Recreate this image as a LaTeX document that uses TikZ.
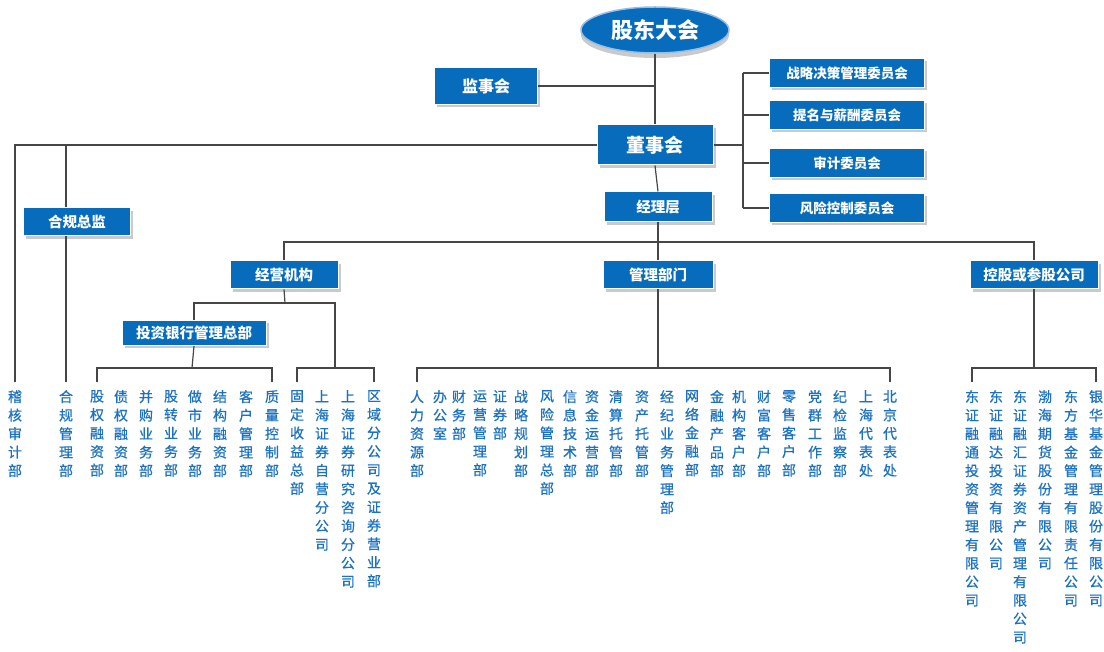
\documentclass[tikz,border=0pt]{standalone}
\usepackage{fontspec}
\setmainfont{Noto Sans CJK SC}
\newfontfamily\vtfont[FakeBold=0.7]{Noto Sans CJK SC}
\usetikzlibrary{shapes.geometric,shadows}
\definecolor{boxblue}{RGB}{8,108,189}
\definecolor{txtblue}{RGB}{28,114,194}
\definecolor{lncol}{RGB}{70,70,70}
\definecolor{rimblue}{RGB}{150,190,230}
\tikzset{
  bx/.style={rectangle, fill=boxblue, draw=white, line width=1pt, text=white,
    font=\bfseries\fontsize{14.5}{16}\selectfont, inner sep=0pt,
    drop shadow={shadow xshift=2.5pt, shadow yshift=-3pt, fill=black!35, opacity=0.6}},
  vt/.style={anchor=north, align=center, inner sep=0pt, text=txtblue,
    font=\vtfont\fontsize{14}{18.5}\selectfont},
  ln/.style={draw=lncol, line width=1.2pt},
}
\begin{document}
\begin{tikzpicture}[x=1pt,y=-1pt]
\useasboundingbox (0,0) rectangle (1104,652);
% top
\node[ellipse, fill=boxblue, draw=rimblue, line width=1.5pt, minimum width=148pt, minimum height=46pt,
  text=white, font=\bfseries\fontsize{22}{24}\selectfont, inner sep=0pt,
  drop shadow={shadow xshift=0pt, shadow yshift=-5pt, fill=black!35, opacity=0.6}] (gm) at (655,30) {股东大会};
\node[bx, minimum width=103pt, minimum height=37pt, font=\bfseries\fontsize{16}{18}\selectfont] (sup) at (486,86) {监事会};
\node[bx, minimum width=116pt, minimum height=40pt, font=\bfseries\fontsize{19}{21}\selectfont] (board) at (655,145) {董事会};
\node[bx, minimum width=108pt, minimum height=30pt] (mgr) at (658,207) {经理层};
\node[bx, minimum width=155pt, minimum height=29pt, font=\bfseries\fontsize{13.5}{15}\selectfont] (c1) at (847,73) {战略决策管理委员会};
\node[bx, minimum width=155pt, minimum height=29pt, font=\bfseries\fontsize{13.5}{15}\selectfont] (c2) at (847,115) {提名与薪酬委员会};
\node[bx, minimum width=155pt, minimum height=29pt, font=\bfseries\fontsize{13.5}{15}\selectfont] (c3) at (847,163) {审计委员会};
\node[bx, minimum width=155pt, minimum height=29pt, font=\bfseries\fontsize{13.5}{15}\selectfont] (c4) at (847,208) {风险控制委员会};
\node[bx, minimum width=107pt, minimum height=28pt] (cc) at (77,222) {合规总监};
\node[bx, minimum width=108pt, minimum height=28pt] (ops) at (284,275) {经营机构};
\node[bx, minimum width=110pt, minimum height=28pt] (dept) at (658,275) {管理部门};
\node[bx, minimum width=128pt, minimum height=28pt] (hold) at (1034,275) {控股或参股公司};
\node[bx, minimum width=144pt, minimum height=25pt] (ib) at (194,333) {投资银行管理总部};
% coordinates
\coordinate (cb) at (743,145);
\coordinate (lb) at (66,145);
\coordinate (hub) at (658,242);
\coordinate (opsj) at (285,303);
\coordinate (ibj) at (192,368);
\coordinate (brj) at (335,368);
\coordinate (dj) at (658,368);
\coordinate (hj) at (1034,368);
% vertical texts left
\node[vt] (a1) at (15,390) {稽\\核\\审\\计\\部};
\node[vt] (a2) at (66,390) {合\\规\\管\\理\\部};
\node[vt] (b1) at (97,390) {股\\权\\融\\资\\部};
\node[vt] (b2) at (121,390) {债\\权\\融\\资\\部};
\node[vt] (b3) at (146,390) {并\\购\\业\\务\\部};
\node[vt] (b4) at (171,390) {股\\转\\业\\务\\部};
\node[vt] (b5) at (195,390) {做\\市\\业\\务\\部};
\node[vt] (b6) at (220,390) {结\\构\\融\\资\\部};
\node[vt] (b7) at (246,390) {客\\户\\管\\理\\部};
\node[vt] (b8) at (272,390) {质\\量\\控\\制\\部};
\node[vt] (e1) at (297,390) {固\\定\\收\\益\\总\\部};
\node[vt] (e2) at (322,390) {上\\海\\证\\券\\自\\营\\分\\公\\司};
\node[vt] (e3) at (348,390) {上\\海\\证\\券\\研\\究\\咨\\询\\分\\公\\司};
\node[vt] (e4) at (374,390) {区\\域\\分\\公\\司\\及\\证\\券\\营\\业\\部};
% middle
\node[vt] (m1) at (417,390) {人\\力\\资\\源\\部};
\node[vt] (m2) at (440,390) {办\\公\\室};
\node[vt] (m3) at (459,390) {财\\务\\部};
\node[vt] (m4) at (480,390) {运\\营\\管\\理\\部};
\node[vt] (m5) at (500,390) {证\\券\\部};
\node[vt] (m6) at (521,390) {战\\略\\规\\划\\部};
\node[vt] (m7) at (547,390) {风\\险\\管\\理\\总\\部};
\node[vt] (m8) at (570,390) {信\\息\\技\\术\\部};
\node[vt] (m9) at (592,390) {资\\金\\运\\营\\部};
\node[vt] (m10) at (616,390) {清\\算\\托\\管\\部};
\node[vt] (m11) at (642,390) {资\\产\\托\\管\\部};
\node[vt] (m12) at (667,390) {经\\纪\\业\\务\\管\\理\\部};
\node[vt] (m13) at (692,390) {网\\络\\金\\融\\部};
\node[vt] (m14) at (717,390) {金\\融\\产\\品\\部};
\node[vt] (m15) at (739,390) {机\\构\\客\\户\\部};
\node[vt] (m16) at (764,390) {财\\富\\客\\户\\部};
\node[vt] (m17) at (789,390) {零\\售\\客\\户\\部};
\node[vt] (m18) at (815,390) {党\\群\\工\\作\\部};
\node[vt] (m19) at (840,390) {纪\\检\\监\\察\\部};
\node[vt] (m20) at (866,390) {上\\海\\代\\表\\处};
\node[vt] (m21) at (890,390) {北\\京\\代\\表\\处};
% right
\node[vt] (r1) at (972,390) {东\\证\\融\\通\\投\\资\\管\\理\\有\\限\\公\\司};
\node[vt] (r2) at (996,390) {东\\证\\融\\达\\投\\资\\有\\限\\公\\司};
\node[vt] (r3) at (1020,390) {东\\证\\融\\汇\\证\\券\\资\\产\\管\\理\\有\\限\\公\\司};
\node[vt] (r4) at (1045,390) {渤\\海\\期\\货\\股\\份\\有\\限\\公\\司};
\node[vt] (r5) at (1071,390) {东\\方\\基\\金\\管\\理\\有\\限\\责\\任\\公\\司};
\node[vt] (r6) at (1096,390) {银\\华\\基\\金\\管\\理\\股\\份\\有\\限\\公\\司};
% connectors top
\draw[ln] (gm.south) -- (board.north);
\draw[ln] (sup.east) -- (sup.east -| gm.south);
\draw[ln] (board.east) -- (cb);
\draw[ln] (c1.west -| cb) -- (c4.west -| cb);
\draw[ln] (c1.west -| cb) -- (c1.west);
\draw[ln] (c2.west -| cb) -- (c2.west);
\draw[ln] (c3.west -| cb) -- (c3.west);
\draw[ln] (c4.west -| cb) -- (c4.west);
\draw[ln] (board.west) -| ([yshift=8pt]a1.north);
\draw[ln] (lb) -- (lb |- cc.north);
\draw[ln] (lb |- cc.south) -- ([yshift=8pt]a2.north);
\draw[ln] (board.south) -- (mgr.north);
\draw[ln] (mgr.south) -- (hub);
\draw[ln] (ops.north) -- (ops.north |- hub) -- (hold.north |- hub) -- (hold.north);
\draw[ln] (hub) -- (dept.north);
% 经营机构
\draw[ln] (ops.south) -- (opsj);
\draw[ln] (ib.north) -- (ib.north |- opsj) -- (brj |- opsj) -- (brj);
\draw[ln] (ib.south) -- (ibj);
\draw[ln] ([yshift=8pt]b1.north) -- (b1.north |- ibj) -- (b8.north |- ibj) -- ([yshift=8pt]b8.north);
\draw[ln] ([yshift=8pt]e1.north) -- (e1.north |- brj) -- (e4.north |- brj) -- ([yshift=8pt]e4.north);
% 管理部门
\draw[ln] (dept.south) -- (dj);
\draw[ln] ([yshift=8pt]m1.north) -- (m1.north |- dj) -- (m21.north |- dj) -- ([yshift=8pt]m21.north);
% 控股
\draw[ln] (hold.south) -- (hj);
\draw[ln] ([yshift=8pt]r1.north) -- (r1.north |- hj) -- (r6.north |- hj) -- ([yshift=8pt]r6.north);
\end{tikzpicture}
\end{document}
